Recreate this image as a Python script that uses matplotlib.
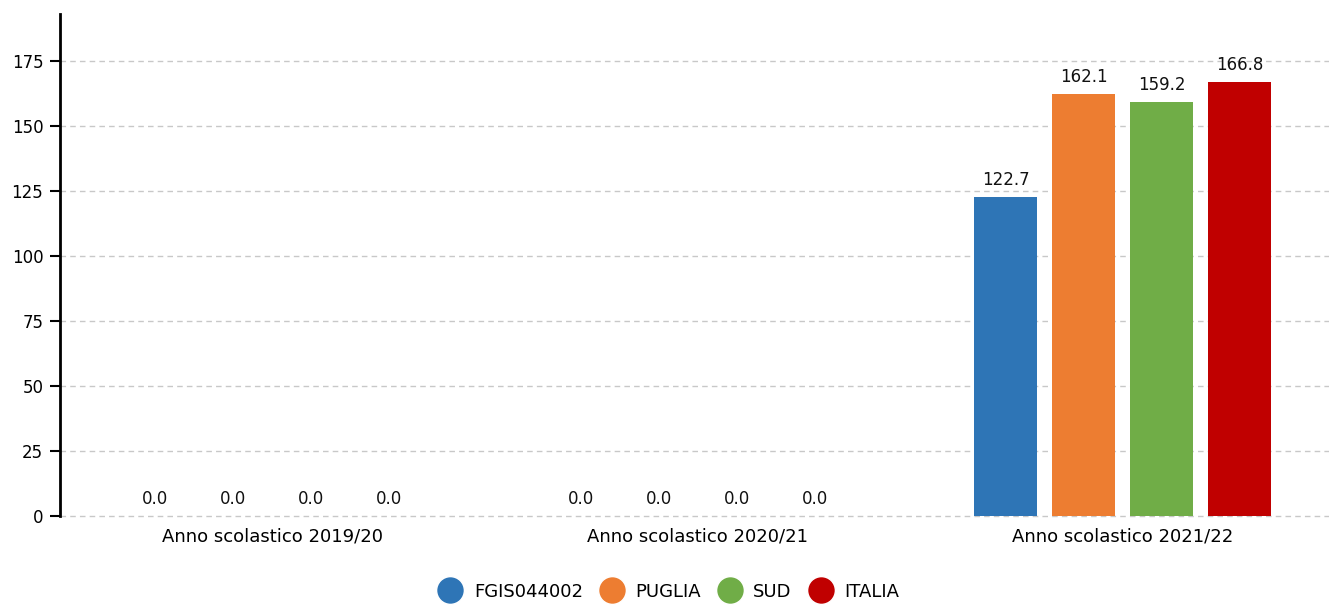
import numpy as np
import matplotlib.pyplot as plt
from matplotlib.lines import Line2D

# Dati
anni = ['Anno scolastico 2019/20', 'Anno scolastico 2020/21', 'Anno scolastico 2021/22']
serie = ['FGIS044002', 'PUGLIA', 'SUD', 'ITALIA']
fgis = [0.0, 0.0, 122.7]
puglia = [0.0, 0.0, 162.1]
sud = [0.0, 0.0, 159.2]
italia = [0.0, 0.0, 166.8]
colori = ['#2E75B6', '#ED7D31', '#70AD47', '#C00000']

valori = [fgis, puglia, sud, italia]

fig = plt.figure(figsize=(13.29, 6.08), dpi=100)
ax = fig.add_axes([0.0451, 0.1513, 0.955, 0.826])

x = np.arange(len(anni))
larghezza = 0.15
passo = 0.1835

for i, (nome, val) in enumerate(zip(serie, valori)):
    pos = x + (i - 1.5) * passo
    ax.bar(pos, val, width=larghezza, color=colori[i], zorder=3)
    for xb, v in zip(pos, val):
        ax.text(xb, v + 3, f'{v:.1f}', ha='center', va='bottom', fontsize=12, color='#111111')

ax.set_ylim(0, 193)
ax.set_xlim(-0.5, 2.486)
ax.set_yticks(np.arange(0, 176, 25))
ax.set_xticks(x)
ax.set_xticklabels(anni, fontsize=13)
ax.tick_params(axis='x', length=0, pad=8)
ax.tick_params(axis='y', length=7, width=1.5, labelsize=12, pad=5)

ax.yaxis.grid(True, linestyle=(0, (4, 3)), color='#c8c8c8', linewidth=1, zorder=0)
for gl in ax.get_ygridlines():
    gl.set_clip_on(False)
for s in ['top', 'right', 'bottom']:
    ax.spines[s].set_visible(False)
ax.spines['left'].set_linewidth(2)

handles = [Line2D([0], [0], marker='o', color='w', markerfacecolor=c, markersize=20, linestyle='')
           for c in colori]
fig.legend(handles, serie, loc='center', bbox_to_anchor=(0.503, 0.027), ncol=4, frameon=False,
           fontsize=13, handletextpad=0.6, columnspacing=0.9, handlelength=1.4)

fig.savefig('out.png', dpi=100)
